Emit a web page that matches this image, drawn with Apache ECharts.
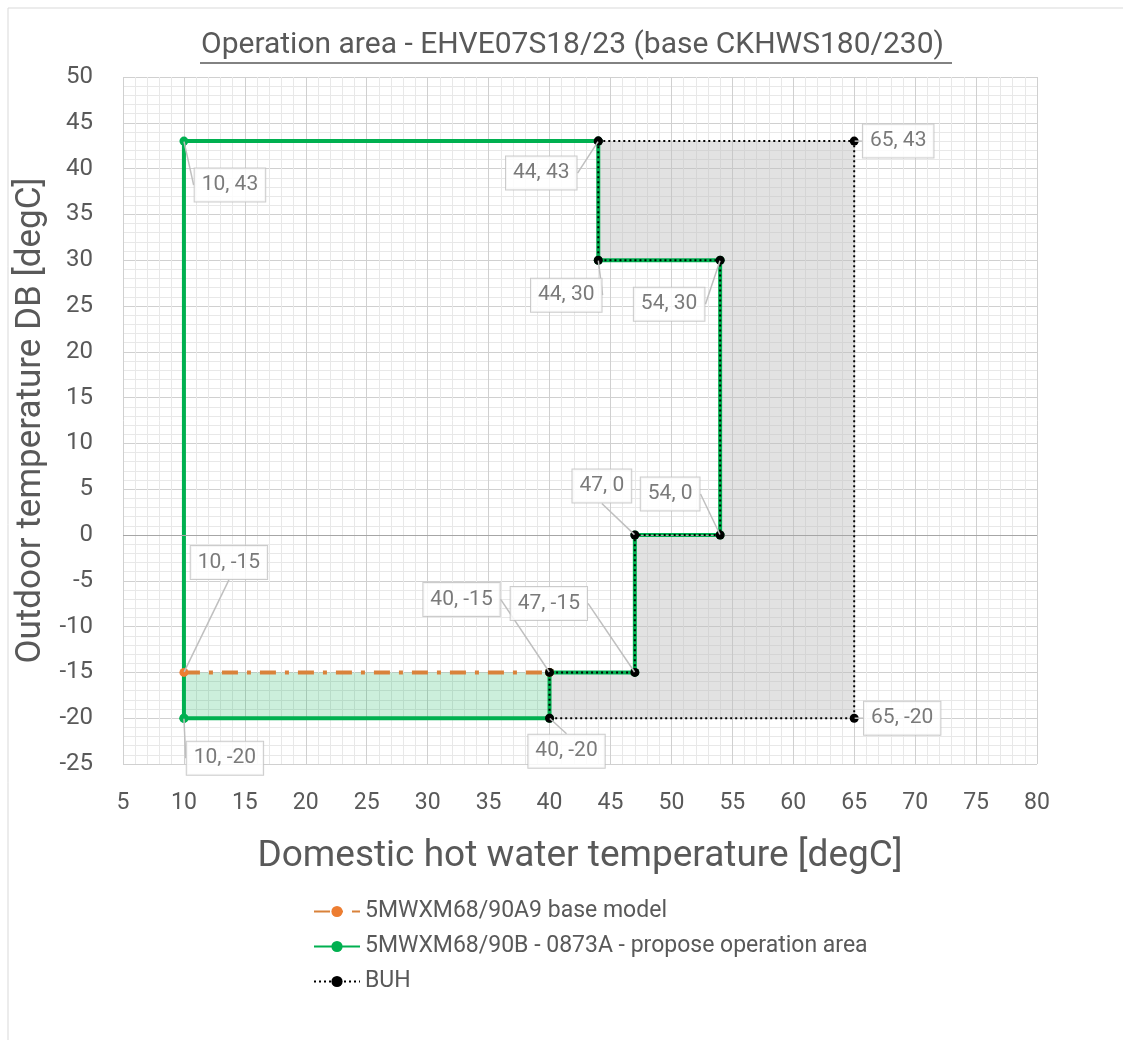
<!DOCTYPE html>
<html>
<head>
<meta charset="utf-8">
<script src="https://cdn.jsdelivr.net/npm/echarts@6/dist/echarts.min.js"></script>
<style>
    html, body { margin: 0; padding: 0; background: #fff; }
    #chart { width: 1123px; height: 1040px; }
</style>
</head>
<body>
<div id="chart"></div>
<script>
// base model line (orange)
const baseX = [10, 40]
const baseY = [-15, -15]
// proposed operation area outline (green)
const proposeX = [10, 10, 44, 44, 54, 54, 47, 47, 40, 40, 10]
const proposeY = [-20, 43, 43, 30, 30, 0, 0, -15, -15, -20, -20]
// BUH outline (black dotted)
const buhX = [44, 65, 65, 40, 40, 47, 47, 54, 54, 44, 44]
const buhY = [43, 43, -20, -20, -15, -15, 0, 0, 30, 30, 43]
// green shaded strip
const stripX = [10, 40, 40, 10]
const stripY = [-15, -15, -20, -20]
// callout points
const calloutX = [10, 44, 65, 44, 54, 47, 54, 10, 40, 47, 10, 40, 65]
const calloutY = [43, 43, 43, 30, 30, 0, 0, -15, -15, -15, -20, -20, -20]
const xTicks = { min: 5, max: 80, interval: 5 }
const yTicks = { min: -25, max: 50, interval: 5 }

// label offsets (px) for each callout, same order as calloutX
const calloutShift = [
    [46, 44], [-57, 32], [44, 0], [-32, 35], [-51, 44], [-33, -49], [-50, -41],
    [45, -110], [-88, -73], [-86, -69], [41, 40], [17, 33], [48, 0]
]

const pairs = (xs, ys) => xs.map((x, i) => [x, ys[i]])
const FONT = 'Roboto, "Liberation Sans", sans-serif'
const TXT = '#595959'

const polygonItem = (fill) => (params, api) => {
    const pts = []
    for (let i = 0; i < params.dataInsideLength; i++) {
        pts.push(api.coord([api.value(0, i), api.value(1, i)]))
    }
    if (params.dataIndexInside !== 0) return
    return {
        type: 'polygon',
        shape: { points: pts },
        style: { fill: fill, stroke: 'none' },
        silent: true
    }
}

const dom = echarts.init(document.getElementById('chart'))
const option = {
    backgroundColor: '#fff',
    animation: false,
    textStyle: { fontFamily: FONT },
    graphic: [
        { type: 'rect', shape: { x: 8, y: 8, width: 1200, height: 1100 },
          style: { fill: 'none', stroke: '#d9d9d9', lineWidth: 1 }, silent: true },
        { type: 'text', left: 201, top: 30,
          style: { text: 'Operation area - EHVE07S18/23 (base CKHWS180/230)',
                   fill: TXT, font: '30px ' + FONT } },
        { type: 'line', shape: { x1: 200, y1: 63, x2: 952, y2: 63 },
          style: { stroke: TXT, lineWidth: 1.5 }, silent: true }
    ],
    legend: {
        orient: 'vertical',
        left: 308,
        top: 895,
        itemGap: 12,
        itemWidth: 46,
        itemHeight: 14,
        data: ['5MWXM68/90A9 base model', '5MWXM68/90B - 0873A - propose operation area', 'BUH'],
        textStyle: { color: TXT, fontSize: 23, fontFamily: FONT }
    },
    grid: { left: 123, right: 86, top: 77, bottom: 276 },
    xAxis: {
        type: 'value',
        min: xTicks.min, max: xTicks.max, interval: xTicks.interval,
        name: 'Domestic hot water temperature [degC]',
        nameLocation: 'middle',
        nameGap: 74,
        nameTextStyle: { color: TXT, fontSize: 37 },
        axisLine: { show: false },
        axisTick: { show: false },
        axisLabel: { color: TXT, fontSize: 23, margin: 28 },
        splitLine: { lineStyle: { color: '#d0d0d0', width: 1 } },
        minorTick: { show: false, splitNumber: 5 },
        minorSplitLine: { show: true, lineStyle: { color: '#e8e8e8', width: 1 } }
    },
    yAxis: {
        type: 'value',
        min: yTicks.min, max: yTicks.max, interval: yTicks.interval,
        name: 'Outdoor temperature DB [degC]',
        nameLocation: 'middle',
        nameGap: 63,
        nameTextStyle: { color: TXT, fontSize: 35 },
        axisLine: { show: false },
        axisTick: { show: false },
        axisLabel: { color: TXT, fontSize: 24, margin: 30 },
        splitLine: { lineStyle: { color: '#d0d0d0', width: 1 } },
        minorTick: { show: false, splitNumber: 5 },
        minorSplitLine: { show: true, lineStyle: { color: '#e8e8e8', width: 1 } }
    },
    series: [
        {
            type: 'custom',
            name: 'buhFill',
            renderItem: polygonItem('rgba(190,190,190,0.45)'),
            data: pairs(buhX, buhY),
            z: 1
        },
        {
            type: 'custom',
            name: 'stripFill',
            renderItem: polygonItem('rgba(0,176,80,0.2)'),
            data: pairs(stripX, stripY),
            z: 1
        },
        {
            // zero line
            type: 'line',
            data: [],
            markLine: {
                silent: true, symbol: 'none', label: { show: false },
                lineStyle: { color: '#a6a6a6', width: 1, type: 'solid' },
                data: [{ yAxis: 0 }]
            },
            z: 2
        },
        {
            type: 'line',
            name: '5MWXM68/90B - 0873A - propose operation area',
            data: pairs(proposeX, proposeY),
            color: '#00b050',
            lineStyle: { color: '#00b050', width: 4 },
            itemStyle: { color: '#00b050' },
            symbol: 'circle',
            symbolSize: 9,
            showAllSymbol: true,
            z: 3
        },
        {
            type: 'line',
            name: '5MWXM68/90A9 base model',
            data: pairs(baseX, baseY),
            color: '#e2782f',
            lineStyle: { color: '#d9823a', width: 4, type: [16, 9, 4, 9] },
            itemStyle: { color: '#ed7d31' },
            symbol: 'circle',
            symbolSize: 9,
            z: 4
        },
        {
            type: 'line',
            name: 'BUH',
            data: pairs(buhX, buhY),
            color: '#000',
            lineStyle: { color: '#000', width: 2, type: [2, 3] },
            itemStyle: { color: '#000' },
            symbol: 'circle',
            symbolSize: 9,
            showAllSymbol: true,
            z: 5
        },
        {
            type: 'scatter',
            name: 'callouts',
            data: pairs(calloutX, calloutY),
            symbolSize: 1,
            itemStyle: { color: 'rgba(0,0,0,0)' },
            label: {
                show: true,
                position: 'inside',
                formatter: (p) => p.value[0] + ', ' + p.value[1],
                color: TXT,
                fontSize: 21,
                backgroundColor: '#fff',
                borderColor: '#bfbfbf',
                borderWidth: 1,
                padding: [7, 7, 5, 7]
            },
            labelLine: {
                show: true,
                lineStyle: { color: '#bfbfbf', width: 1.5 }
            },
            labelLayout: (params) => ({
                dx: calloutShift[params.dataIndex][0],
                dy: calloutShift[params.dataIndex][1]
            }),
            z: 10
        }
    ]
}
dom.setOption(option)
</script>
</body>
</html>
